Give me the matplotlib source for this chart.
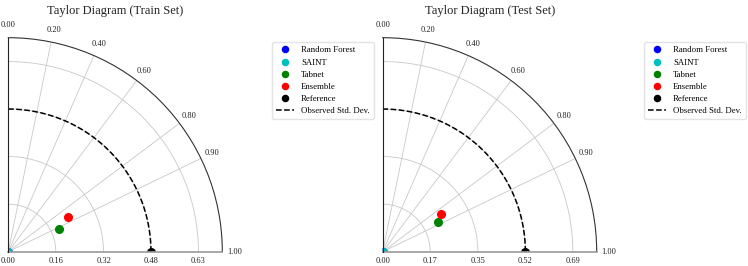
import numpy as np
import matplotlib
matplotlib.use("Agg")
import matplotlib.pyplot as plt
from matplotlib.transforms import offset_copy

plt.rcParams['font.family'] = ['Liberation Serif', 'DejaVu Serif']

# model names and colours
models = ["Random Forest", "SAINT", "Tabnet", "Ensemble"]
model_colours = ["blue", "c", "green", "red"]

# correlation / std tick labels
corr_ticks = [0.0, 0.2, 0.4, 0.6, 0.8, 0.9, 1.0]

train_ref_std = 0.475
train_std = [0.0, 0.0, 0.184, 0.229]
train_corr = [1.0, 1.0, 0.915, 0.862]
train_std_ticks = [0.0, 0.158, 0.317, 0.475, 0.633]
train_std_labels = ["0.00", "0.16", "0.32", "0.48", "0.63"]

test_ref_std = 0.52
test_std = [0.0, 0.0, 0.229, 0.254]
test_corr = [1.0, 1.0, 0.878, 0.843]
test_std_ticks = [0.0, 0.173, 0.347, 0.52, 0.693]
test_std_labels = ["0.00", "0.17", "0.35", "0.52", "0.69"]

W, H = 748, 266


def taylor(ax, title, ref_std, stds, corrs, std_ticks, std_labels):
    rmax = 1.5 * ref_std
    ax.set_thetamin(0)
    ax.set_thetamax(90)
    ax.set_ylim(0, rmax)

    angles = np.arccos(corr_ticks)
    ax.set_thetagrids(np.degrees(angles), [""] * len(angles))
    ax.set_rgrids(std_ticks, [""] * len(std_ticks))
    ax.tick_params(axis='x', size=0)
    ax.grid(True, color='#c8c8c8', linewidth=0.6)

    ax.spines['polar'].set_color('#333333')
    ax.spines['polar'].set_linewidth(0.8)
    ax.spines['end'].set_color('#222222')
    ax.spines['end'].set_linewidth(0.8)
    ax.spines['start'].set_color('#999999')
    ax.spines['start'].set_linewidth(1.2)
    ax.spines['inner'].set_visible(False)

    # correlation labels just outside the arc
    for a, c in zip(angles, corr_ticks):
        d = 8.8
        trans = offset_copy(ax.transData, fig=ax.figure, x=d * np.cos(a),
                            y=d * np.sin(a), units='points')
        ax.text(a, rmax, f"{c:.2f}", transform=trans, ha='center',
                va='center', fontsize=6, color='#222222', clip_on=False)

    # radial labels under the bottom axis
    trans = offset_copy(ax.transData, fig=ax.figure, y=-4, units='points')
    for r, lbl in zip(std_ticks, std_labels):
        ax.text(0, r, lbl, transform=trans, ha='center', va='top',
                fontsize=6, color='#222222')

    for name, col, s, c in zip(models, model_colours, stds, corrs):
        ax.plot(np.arccos(c), s, 'o', color=col, markersize=5.5, label=name)
    ax.plot(0, ref_std, 'o', color='black', markersize=5.5, label="Reference")

    th = np.linspace(0, np.pi / 2, 200)
    ax.plot(th, np.full_like(th, ref_std), 'k--', linewidth=1.1,
            label="Observed Std. Dev.")

    pos = ax.get_position()
    ax.figure.text((pos.x0 + pos.x1) / 2, 1 - 11 / H, title, fontsize=9,
                   ha='center', va='center', color='#222222')


fig = plt.figure(figsize=(W / 100, H / 100), dpi=100)
ax1 = fig.add_axes([8.3 / W, 14.3 / H, 214 / W, 214 / H], projection='polar')
ax2 = fig.add_axes([382.7 / W, 14.3 / H, 214 / W, 214 / H], projection='polar')

taylor(ax1, "Taylor Diagram (Train Set)", train_ref_std, train_std, train_corr,
       train_std_ticks, train_std_labels)
taylor(ax2, "Taylor Diagram (Test Set)", test_ref_std, test_std, test_corr,
       test_std_ticks, test_std_labels)

for ax, x0 in [(ax1, 272), (ax2, 644)]:
    ax.legend(loc='upper left', bbox_to_anchor=(x0 / W, 1 - 42 / H),
              bbox_transform=fig.transFigure, borderaxespad=0, fontsize=6.3,
              frameon=True, edgecolor='#dddddd', fancybox=True,
              markerscale=0.8, handlelength=2.0, labelspacing=0.45,
              borderpad=0.5)

fig.savefig("out.png", dpi=100)
